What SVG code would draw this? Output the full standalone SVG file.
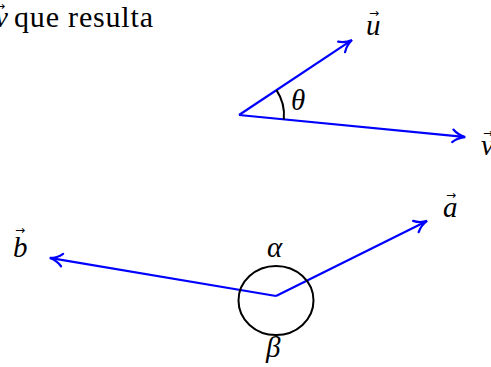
<svg xmlns="http://www.w3.org/2000/svg" width="491" height="367" viewBox="0 0 491 367">
<style>
.vec{stroke:#0000ff;stroke-width:2.2;fill:none;marker-end:url(#arr)}
.ang{stroke:#000;stroke-width:2;fill:none}
.t{font-family:"Liberation Serif",serif;font-size:30px;fill:#000}
.m{font-family:"Liberation Serif",serif;font-style:italic;font-size:29px;fill:#000}
.ar{font-family:"DejaVu Sans",sans-serif;font-size:12px;fill:#000}
</style>
<defs>
<marker id="arr" markerUnits="userSpaceOnUse" markerWidth="20" markerHeight="20" viewBox="-12 -8 16 16" refX="0" refY="0" orient="auto" overflow="visible">
<path d="M -9 -5 C -6 -2, -2 -0.5, 1 0 C -2 0.5, -6 2, -9 5" stroke="#0000ff" stroke-width="1.8" fill="none" stroke-linecap="round"/>
</marker>
</defs>
<rect width="491" height="367" fill="#fff"/>
<g id="caption">
<text class="m" x="-5" y="27">v</text>
<text class="ar" x="-5" y="10">→</text>
<text class="t" x="14" y="27" textLength="139" lengthAdjust="spacing">que resulta</text>
</g>
<g id="connectors">
<line class="vec" x1="239" y1="115" x2="351" y2="40.7"/>
<line class="vec" x1="239" y1="115" x2="464" y2="136.9"/>
<line class="vec" x1="276" y1="296" x2="426" y2="221.5"/>
<line class="vec" x1="276" y1="296" x2="51" y2="258.2"/>
</g>
<g id="theta">
<path class="ang" d="M 276.5 90.1 A 45 45 0 0 1 283.8 119.4"/>
<text class="m" x="291" y="110">θ</text>
</g>
<g id="u">
<text class="m" x="366" y="35">u</text>
<text class="ar" x="369" y="17">→</text>
</g>
<g id="v">
<text class="m" x="481" y="155">v</text>
<text class="ar" x="483" y="137">→</text>
</g>
<g id="a">
<text class="m" x="443" y="217">a</text>
<text class="ar" x="446" y="199">→</text>
</g>
<g id="b">
<text class="m" x="13" y="257">b</text>
<text class="ar" x="15" y="234">→</text>
</g>
<g id="circle">
<ellipse class="ang" cx="276" cy="300.5" rx="37.5" ry="34.5"/>
</g>
<g id="alpha">
<text class="m" x="267" y="257">α</text>
</g>
<g id="beta">
<text class="m" x="266" y="357">β</text>
</g>
</svg>
